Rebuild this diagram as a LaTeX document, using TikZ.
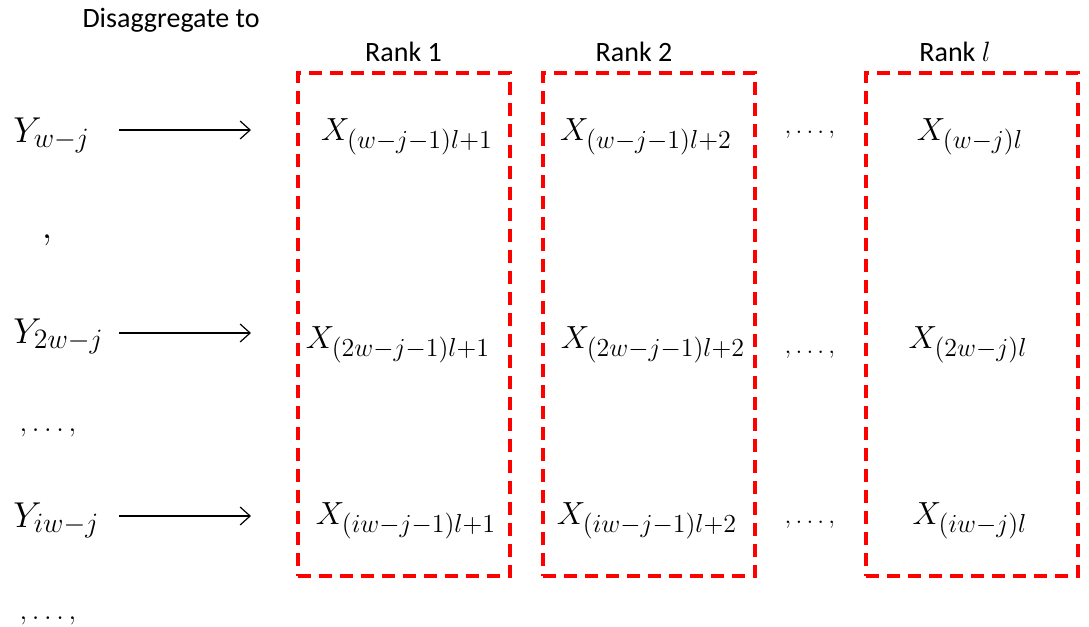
\documentclass[tikz,border=0pt]{standalone}
\usepackage{fix-cm}
\usepackage{fontspec}
\newfontfamily\labelfont{Carlito}
\usetikzlibrary{arrows.meta,positioning}
\DeclareMathSizes{16}{16}{13}{10}
\DeclareMathSizes{18}{18}{14}{10}

\begin{document}
\begin{tikzpicture}[
  x=0.5pt, y=-0.5pt,
  node distance=1pt,
  lbl/.style={font=\labelfont\fontsize{14}{17}\selectfont},
  xvar/.style={font=\fontsize{16}{19}\selectfont, inner sep=0pt, anchor=base},
  yvar/.style={font=\fontsize{18}{21}\selectfont, inner sep=0pt, anchor=base west},
  dots/.style={font=\fontsize{12.5}{15}\selectfont, inner sep=0pt, anchor=base},
  rankbox/.style={draw=red, line width=2pt, dash pattern=on 6.5pt off 4pt,
                  minimum width=106pt, minimum height=251.5pt, inner sep=0pt},
  arr/.style={-{Straight Barb[length=5pt,width=9pt]}, line width=0.6pt}
]
\useasboundingbox (0,0) rectangle (1089,627);

% ---------- Cajas de rango ----------
\node[rankbox] (box1) at (403.5,324.5) {};
\node[rankbox] (box2) at (649,324.5) {};
\node[rankbox] (box3) at (972,324.5) {};
\node[lbl, above=of box1] (r1) {Rank 1};
\node[lbl, above=of box2, xshift=-7.5pt] (r2) {Rank 2};
\node[lbl, above=of box3, xshift=-8.5pt] (r3) {Rank $l$};
\node[lbl] (dis) at (171,20) {Disaggregate to};

% ---------- Columna izquierda: Y ----------
\node[yvar] (y1) at (13,142) {$Y_{w-j}$};
\node[yvar] (y2) at (13,343) {$Y_{2w-j}$};
\node[yvar] (y3) at (13,527) {$Y_{iw-j}$};
\node[dots, font=\fontsize{19}{22}\selectfont] (c1) at (47,238) {$,$};
\node[dots, font=\fontsize{14}{17}\selectfont] (c2) at (48,431) {$,\ldots,$};
\node[dots, font=\fontsize{14}{17}\selectfont] (c3) at (48,619) {$,\ldots,$};

% ---------- Flechas ----------
\coordinate (a1) at (119,130); \coordinate (b1) at (251,130);
\coordinate (a2) at (119,333); \coordinate (b2) at (251,333);
\coordinate (a3) at (119,516); \coordinate (b3) at (251,516);
\draw[arr] (a1)--(b1); \draw[arr] (a2)--(b2); \draw[arr] (a3)--(b3);

% ---------- Fila 1 ----------
\node[xvar] (x11) at (407,140) {$X_{(w-j-1)l+1}$};
\node[xvar] (x12) at (646,140) {$X_{(w-j-1)l+2}$};
\node[dots] (d1) at (810,133) {$,\ldots,$};
\node[xvar] (x13) at (970,140) {$X_{(w-j)l}$};

% ---------- Fila 2 ----------
\node[xvar] (x21) at (398,348) {$X_{(2w-j-1)l+1}$};
\node[xvar] (x22) at (653,348) {$X_{(2w-j-1)l+2}$};
\node[dots] (d2) at (810,353) {$,\ldots,$};
\node[xvar] (x23) at (968,348) {$X_{(2w-j)l}$};

% ---------- Fila 3 ----------
\node[xvar] (x31) at (406,524) {$X_{(iw-j-1)l+1}$};
\node[xvar] (x32) at (647,524) {$X_{(iw-j-1)l+2}$};
\node[dots] (d3) at (810,523) {$,\ldots,$};
\node[xvar] (x33) at (970,524) {$X_{(iw-j)l}$};

\end{tikzpicture}
\end{document}
